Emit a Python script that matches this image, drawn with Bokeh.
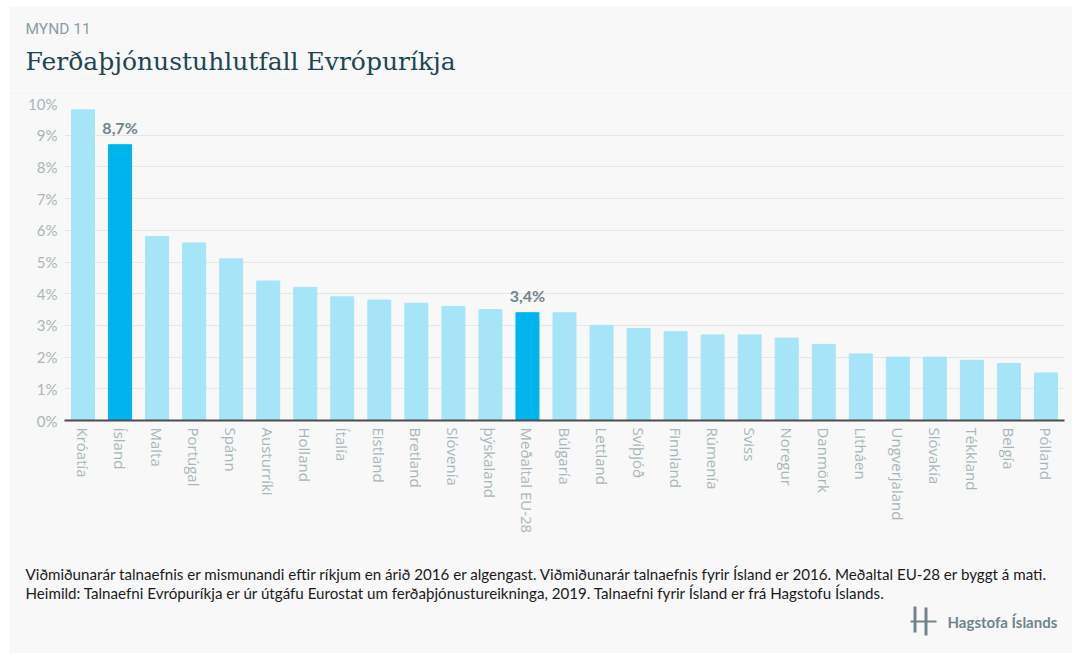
from bokeh.plotting import figure
from bokeh.models import ColumnDataSource, FixedTicker, Label, BoxAnnotation, Spacer
from bokeh.layouts import column, row
from bokeh.core.properties import value
from bokeh.embed import file_html
from bokeh.resources import INLINE

countries = ["Króatía", "Ísland", "Malta", "Portúgal", "Spánn", "Austurríki", "Holland",
             "Ítalía", "Eistland", "Bretland", "Slóvenía", "þýskaland", "Meðaltal EU-28",
             "Búlgaría", "Lettland", "Svíþjóð", "Finnland", "Rúmenía", "Sviss", "Noregur",
             "Danmörk", "Litháen", "Ungverjaland", "Slóvakía", "Tékkland", "Belgía", "Pólland"]
shares = [9.8, 8.7, 5.8, 5.6, 5.1, 4.4, 4.2, 3.9, 3.8, 3.7, 3.6, 3.5, 3.4,
          3.4, 3.0, 2.9, 2.8, 2.7, 2.7, 2.6, 2.4, 2.1, 2.0, 2.0, 1.9, 1.8, 1.5]
highlighted = ["Ísland", "Meðaltal EU-28"]
highlight_labels = ["8,7%", "3,4%"]
y_ticks = [0, 1, 2, 3, 4, 5, 6, 7, 8, 9, 10]
y_tick_labels = ["0%", "1%", "2%", "3%", "4%", "5%", "6%", "7%", "8%", "9%", "10%"]

kicker = "MYND 11"
title = "Ferðaþjónustuhlutfall Evrópuríkja"
notes = ["Viðmiðunarár talnaefnis er mismunandi eftir ríkjum en árið 2016 er algengast. "
         "Viðmiðunarár talnaefnis fyrir Ísland er 2016. Meðaltal EU-28 er byggt á mati.",
         "Heimild: Talnaefni Evrópuríkja er úr útgáfu Eurostat um ferðaþjónustureikninga, 2019. "
         "Talnaefni fyrir Ísland er frá Hagstofu Íslands."]
brand = "Hagstofa Íslands"

LIGHT = "#a6e4f7"
DARK = "#00b5ed"
BG = "#f8f8f8"
GREY = "#6e858b"
W, H = 1072, 653
PAD_L, PAD_T = 9, 6
IW = W - PAD_L
HEAD_H, MAIN_H = 84, 460
FOOT_H = H - PAD_T - HEAD_H - MAIN_H


def no_align(f):
    if "frame_align" in type(f).properties():
        f.frame_align = False


def blank(height):
    f = figure(width=IW, height=height, output_backend="svg", toolbar_location=None,
               x_axis_type=None, y_axis_type=None, min_border=0,
               x_range=(0, 1), y_range=(0, 1))
    f.background_fill_color = BG
    f.border_fill_color = BG
    f.outline_line_color = None
    f.grid.visible = False
    no_align(f)
    return f


def lab(f, bottom, x, y, text, **kw):
    # x, y in page pixels (from top-left); bottom = page y of figure bottom
    f.add_layout(Label(x=x - PAD_L, y=bottom - y, x_units="screen", y_units="screen",
                       text=text, **kw))


# ---------- header ----------
head = blank(HEAD_H)
hb = PAD_T + HEAD_H
lab(head, hb, 25, 28, kicker, text_font="Roboto", text_font_size="15.5px",
    text_color="#8a9ea3", text_baseline="middle")
lab(head, hb, 25, 61, title, text_font="DejaVu Serif", text_font_size="25px",
    text_color="#1d4650", text_baseline="middle")

# ---------- main chart ----------
colors = [DARK if c in highlighted else LIGHT for c in countries]
src = ColumnDataSource(dict(x=countries, top=shares, color=colors))

p = figure(x_range=countries, y_range=(0, 10), width=IW, height=MAIN_H,
           output_backend="svg", toolbar_location=None,
           min_border_left=55, min_border_right=8, min_border_top=13, min_border_bottom=130)
p.background_fill_color = BG
p.border_fill_color = BG
p.outline_line_color = None
no_align(p)

p.vbar(x="x", top="top", width=0.62, color="color", source=src)

hl_vals = [shares[countries.index(c)] for c in highlighted]
p.text(x=highlighted, y=hl_vals, text=highlight_labels, y_offset=-8,
       text_align="center", text_baseline="bottom",
       text_font=value("Lato"), text_font_style="bold", text_font_size="16px",
       text_color="#70868c")

p.yaxis.ticker = FixedTicker(ticks=y_ticks)
p.yaxis.major_label_overrides = {t: l for t, l in zip(y_ticks, y_tick_labels)}
p.yaxis.axis_line_color = None
p.yaxis.major_tick_line_color = None
p.yaxis.major_tick_out = 0
p.yaxis.minor_tick_line_color = None
p.yaxis.major_label_text_font = "Lato"
p.yaxis.major_label_text_font_size = "15px"
p.yaxis.major_label_text_color = "#a9b6b9"
p.yaxis.major_label_standoff = 7

p.xaxis.axis_line_color = "#4d4d4d"
p.xaxis.axis_line_width = 2
p.xaxis.major_tick_line_color = None
p.xaxis.major_tick_out = 0
p.xaxis.minor_tick_line_color = None
p.xaxis.major_label_orientation = "vertical"
p.xaxis.major_label_text_font = "Open Sans"
p.xaxis.major_label_text_font_size = "15px"
p.xaxis.major_label_text_color = "#a9b6b9"
p.xaxis.major_label_standoff = 7

p.xgrid.grid_line_color = None
p.ygrid.grid_line_color = "#e6e6e6"
p.ygrid.grid_line_width = 1

# ---------- footer ----------
foot = blank(FOOT_H)
fb = H
lab(foot, fb, 25, 573, notes[0], text_font="Lato", text_font_size="15.15px",
    text_color="#1a1a1a", text_baseline="middle")
lab(foot, fb, 25, 592, notes[1], text_font="Lato", text_font_size="15.15px",
    text_color="#1a1a1a", text_baseline="middle")
lab(foot, fb, 947, 621, brand, text_font="Lato", text_font_style="bold",
    text_font_size="15px", text_color=GREY, text_baseline="middle")


def box(x0, x1, y0, y1):
    foot.add_layout(BoxAnnotation(left=x0 - PAD_L, right=x1 - PAD_L, bottom=fb - y1, top=fb - y0,
                                  left_units="screen", right_units="screen",
                                  top_units="screen", bottom_units="screen",
                                  fill_color=GREY, fill_alpha=1, line_color=None))


box(913, 916, 606, 632)
box(924, 927, 607, 635)
box(910, 936, 620, 622)

layout = column(Spacer(width=W, height=PAD_T),
                row(Spacer(width=PAD_L, height=H - PAD_T), column(head, p, foot)))

open("out.html", "w").write(file_html(layout, INLINE))
